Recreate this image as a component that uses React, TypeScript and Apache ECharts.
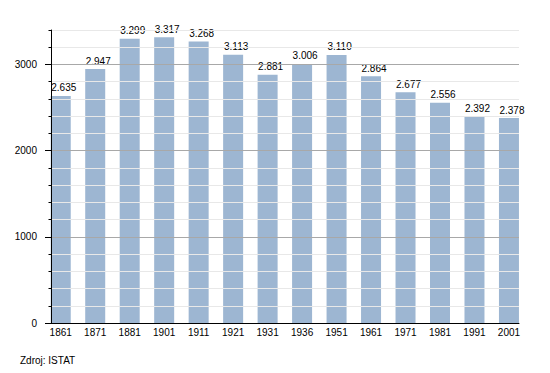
import React, { useEffect, useRef } from "react";
import * as echarts from "echarts";

const years = ["1861", "1871", "1881", "1901", "1911", "1921", "1931", "1936", "1951", "1961", "1971", "1981", "1991", "2001"];
const population = [2635, 2947, 3299, 3317, 3268, 3113, 2881, 3006, 3110, 2864, 2677, 2556, 2392, 2378];
const yMajorTicks = [0, 1000, 2000, 3000];
const yMax = 3400;
const sourceText = "Zdroj: ISTAT";

const FONT = "'Liberation Sans', Arial, Helvetica, sans-serif";

function fmt(v: number): string {
  const th = Math.floor(v / 1000);
  const rest = v % 1000;
  if (th === 0) return String(rest);
  return th + "." + String(rest).padStart(3, "0");
}

export default function App() {
  const ref = useRef<HTMLDivElement>(null);
  useEffect(() => {
    if (!ref.current) return;
    const chart = echarts.init(ref.current, undefined, { renderer: "svg" });
    const gridA = { left: 51, right: 31, top: 30, bottom: 50 };
    const gridB = { left: 43.5, right: 23.8, top: 30, bottom: 50 };
    chart.setOption({
      animation: false,
      backgroundColor: "#ffffff",
      textStyle: { fontFamily: FONT },
      title: {
        text: sourceText,
        left: 20,
        top: 355,
        padding: 0,
        textStyle: { fontFamily: FONT, fontSize: 10, fontWeight: "normal", color: "#000" },
      },
      grid: [
        { ...gridA, containLabel: false },
        { ...gridB, containLabel: false },
      ],
      xAxis: [
        {
          type: "category",
          gridIndex: 0,
          data: years,
          axisLine: { show: true, lineStyle: { color: "#000", width: 1 } },
          axisTick: { show: false },
          axisLabel: { show: false },
          splitLine: { show: false },
          z: 5,
        },
        {
          type: "category",
          gridIndex: 1,
          data: years,
          axisLine: { show: false },
          axisTick: { show: false },
          axisLabel: { show: true, color: "#000", fontSize: 10, fontFamily: FONT, margin: 4 },
          splitLine: { show: false },
        },
      ],
      yAxis: [
        {
          type: "value",
          gridIndex: 0,
          position: "left",
          min: 0,
          max: yMax,
          interval: 200,
          axisLine: { show: true, lineStyle: { color: "#000", width: 1 } },
          axisTick: { show: true, length: 2.5, lineStyle: { color: "#000" } },
          axisLabel: { show: false },
          splitLine: {
            show: true,
            lineStyle: { color: ["#a8a8a8", "#e8e8e8", "#e8e8e8", "#e8e8e8", "#e8e8e8"], width: 1 },
          },
          z: 5,
        },
        {
          type: "value",
          gridIndex: 0,
          position: "left",
          offset: 0,
          min: 0,
          max: yMax,
          axisLine: { show: false },
          axisTick: { show: true, length: 6, customValues: yMajorTicks, lineStyle: { color: "#000" } },
          axisLabel: {
            show: true,
            customValues: yMajorTicks,
            color: "#000",
            fontSize: 10,
            fontFamily: FONT,
            margin: 14,
            formatter: (v: number) => String(v),
          },
          splitLine: { show: false },
          z: 5,
        },
        {
          type: "value",
          gridIndex: 1,
          min: 0,
          max: yMax,
          show: false,
        },
      ],
      series: [
        {
          type: "bar",
          xAxisIndex: 1,
          yAxisIndex: 2,
          data: population,
          barWidth: 20,
          itemStyle: { color: "#9db6d2" },
          label: {
            show: true,
            position: "top",
            distance: 3,
            offset: [3, 0],
            color: "#000",
            fontSize: 10,
            fontFamily: FONT,
            formatter: (p: any) => fmt(p.value),
          },
          z: 3,
        },
      ],
    });
    return () => chart.dispose();
  }, []);
  return <div ref={ref} style={{ position: "absolute", left: 0, top: 0, width: 550, height: 373 }} />;
}
